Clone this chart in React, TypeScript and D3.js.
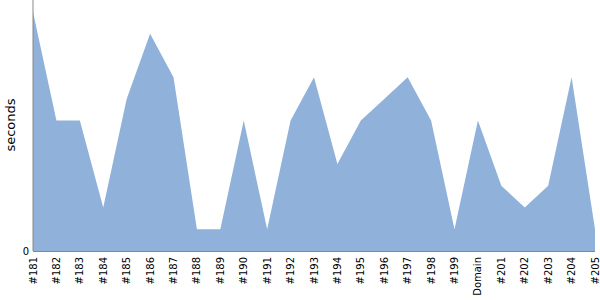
import React from "react";
import * as d3 from "d3";

const categories = ["#181","#182","#183","#184","#185","#186","#187","#188","#189","#190","#191","#192","#193","#194","#195","#196","#197","#198","#199","Domain","#201","#202","#203","#204","#205"];
const seconds = [11,6,6,2,7,10,8,1,1,6,1,6,8,4,6,7,8,6,1,6,3,2,3,8,1];
const yTicks = [0];

export default function App() {
  const W = 600, H = 300;
  const left = 33, right = 595, top = 0, bottom = 251;
  const x = d3.scalePoint<string>().domain(categories).range([left, right]);
  const y = d3.scaleLinear().domain([0, 11.55]).range([bottom, top]);
  const area = d3.area<number>()
    .x((_, i) => x(categories[i]) as number)
    .y0(bottom)
    .y1((d) => y(d));
  const font = "'DejaVu Sans', sans-serif";
  return (
    <svg width={W} height={H} style={{ position: "absolute", left: 0, top: 0 }}>
      <path d={area(seconds) || ""} fill="#8fb1da" />
      <line x1={left} x2={left} y1={top} y2={bottom} stroke="#888" strokeWidth={1} />
      <line x1={left} x2={right} y1={bottom + 0.5} y2={bottom + 0.5} stroke="#888" strokeWidth={1} />
      {yTicks.map((t) => (
        <text key={t} x={left - 4} y={y(t)} dy="0.35em" textAnchor="end" fontFamily={font} fontSize={10} fill="#000">{t}</text>
      ))}
      {categories.map((c) => (
        <text key={c} transform={`translate(${(x(c) as number) + 3.5},257) rotate(-90)`} textAnchor="end" fontFamily={font} fontSize={10} fill="#000">{c}</text>
      ))}
      <text transform={`translate(15,125) rotate(-90)`} textAnchor="middle" fontFamily={font} fontSize={13} fill="#000">seconds</text>
    </svg>
  );
}
